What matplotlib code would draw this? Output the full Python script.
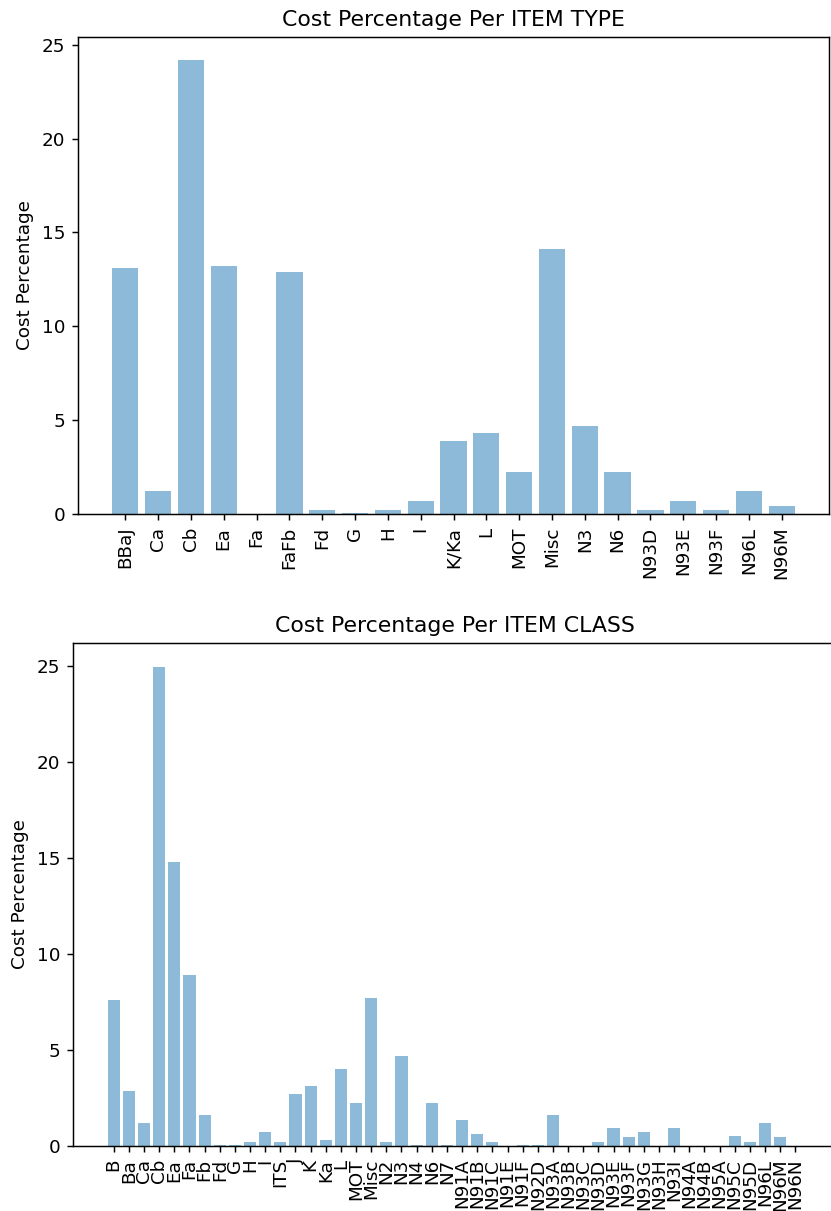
import matplotlib
matplotlib.use("Agg")
import matplotlib.pyplot as plt

type_labels = ["BBaJ", "Ca", "Cb", "Ea", "Fa", "FaFb", "Fd", "G", "H", "I", "K/Ka",
               "L", "MOT", "Misc", "N3", "N6", "N93D", "N93E", "N93F", "N96L", "N96M"]
type_values = [13.1, 1.24, 24.2, 13.2, 0.0, 12.9, 0.22, 0.07, 0.22, 0.71, 3.9,
               4.3, 2.24, 14.1, 4.7, 2.24, 0.22, 0.71, 0.22, 1.24, 0.44]

class_labels = ["B", "Ba", "Ca", "Cb", "Ea", "Fa", "Fb", "Fd", "G", "H", "I", "ITS",
                "J", "K", "Ka", "L", "MOT", "Misc", "N2", "N3", "N4", "N6", "N7",
                "N91A", "N91B", "N91C", "N91E", "N91F", "N92D", "N93A", "N93B", "N93C",
                "N93D", "N93E", "N93F", "N93G", "N93H", "N93I", "N94A", "N94B", "N95A",
                "N95C", "N95D", "N96L", "N96M", "N96N"]
class_values = [7.6, 2.86, 1.21, 24.95, 14.8, 8.9, 1.61, 0.06, 0.06, 0.23, 0.73, 0.23,
                2.72, 3.12, 0.3, 4.02, 2.22, 7.7, 0.23, 4.71, 0.06, 2.22, 0.06,
                1.33, 0.63, 0.23, 0.0, 0.07, 0.07, 1.61, 0.0, 0.0,
                0.23, 0.92, 0.45, 0.72, 0.0, 0.92, 0.0, 0.0, 0.0,
                0.52, 0.23, 1.2, 0.45, 0.0]

W, H = 831, 1211
DPI = 132
fig = plt.figure(figsize=(W / DPI, H / DPI), dpi=DPI)

def box(l, r, t, b):
    return [l / W, 1 - b / H, (r - l) / W, (b - t) / H]

ax1 = fig.add_axes(box(78, 829, 37, 514))
ax1.bar(range(len(type_labels)), type_values, alpha=0.5)
ax1.set_xticks(range(len(type_labels)))
ax1.set_xticklabels(type_labels, rotation=90)
ax1.set_ylabel("Cost Percentage")
ax1.set_title("Cost Percentage Per ITEM TYPE")

ax2 = fig.add_axes(box(73, 836, 643, 1146))
ax2.bar(range(len(class_labels)), class_values, alpha=0.5)
ax2.set_xticks(range(len(class_labels)))
ax2.set_xticklabels(class_labels, rotation=90)
ax2.set_ylabel("Cost Percentage")
ax2.set_title("Cost Percentage Per ITEM CLASS")

fig.savefig("out.png", dpi=DPI)
